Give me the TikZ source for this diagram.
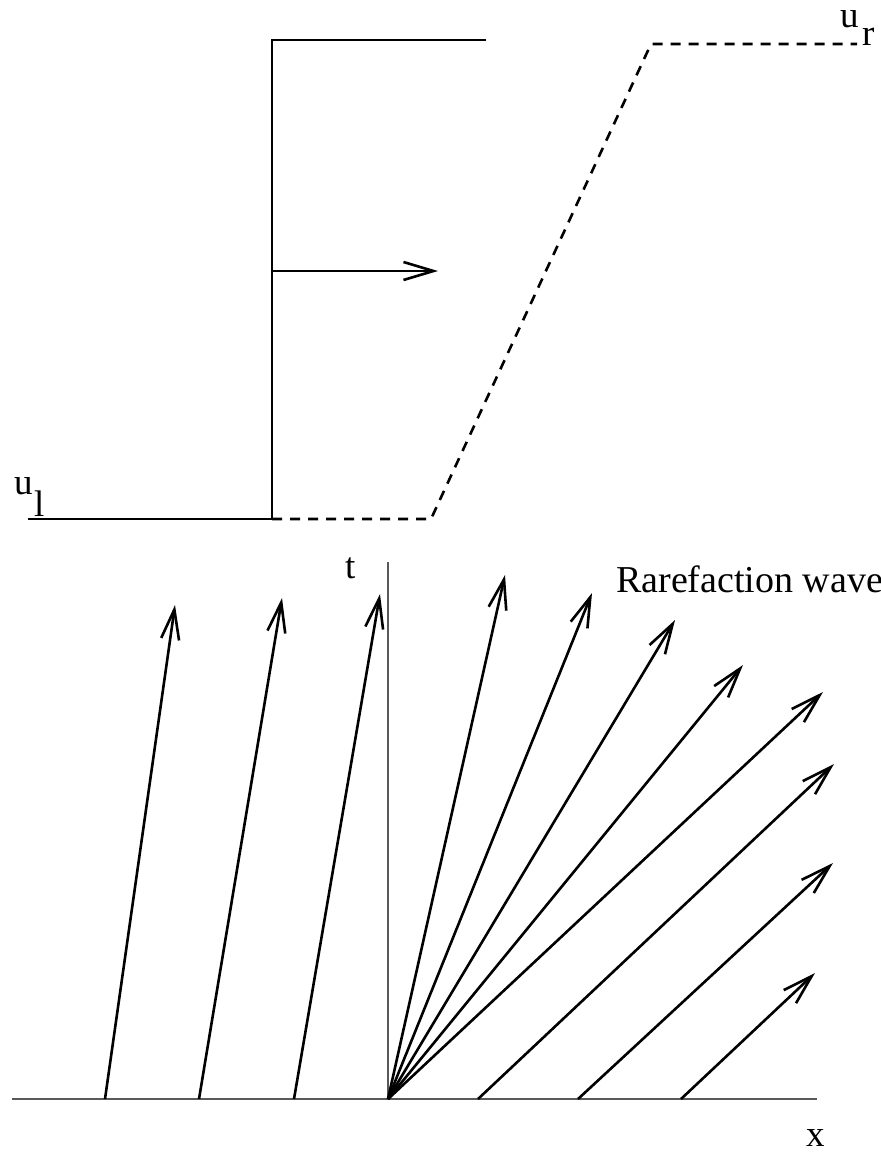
\documentclass[tikz,border=0pt]{standalone}
\usepackage{fontspec}
\setmainfont{Liberation Serif}
\usetikzlibrary{arrows.meta}
\tikzset{
  thick line/.style={line width=2.6pt, black},
  dash line/.style={line width=2.6pt, black, dash pattern=on 10pt off 8pt},
  axis line/.style={line width=1.2pt, black!65},
  vec/.style={thick line, -{Straight Barb[length=30pt,width=18pt,line width=2.6pt]}},
  lbl/.style={inner sep=0pt, anchor=base west, font=\fontsize{37}{37}\selectfont},
}
\begin{document}
\begin{tikzpicture}[x=1pt,y=-1pt]
\useasboundingbox (0,0) rectangle (881,1152);
% ---------- top panel ----------
\coordinate (ulstart) at (28,519);
\coordinate (foot) at (272,519);
\coordinate (head) at (272,40);
\coordinate (topend) at (486,40);
\coordinate (amid) at (272,271);
\coordinate (atip) at (438,271);
\coordinate (d1) at (431,519);
\coordinate (d2) at (651,44);
\coordinate (d3) at (857,44);
\draw[thick line] (ulstart) -- (foot) -- (head) -- (topend);
\draw[vec] (amid) -- (atip);
\draw[dash line] (foot) -- (d1) -- (d2) -- (d3);
\node[lbl] (ul) at (14,494) {u};
\node[lbl] (ulsub) at (34,516) {l};
\node[lbl] (ur) at (840,27) {u};
\node[lbl] (ursub) at (862,45) {r};
% ---------- bottom panel ----------
\coordinate (o) at (388,1099);
\coordinate (ttop) at (388,562);
\coordinate (xl) at (12,1099);
\coordinate (xr) at (817,1099);
\draw[axis line] (o) -- (ttop);
\draw[axis line] (xl) -- (xr);
\node[lbl] (tlabel) at (345,578) {t};
\node[lbl] (xlabel) at (806,1146) {x};
\node[lbl, font=\fontsize{38}{38}\selectfont] (rw) at (616,592) {Rarefaction wave};
% left characteristics
\coordinate (l1s) at (105,1099); \coordinate (l1e) at (175,605);
\coordinate (l2s) at (199,1099); \coordinate (l2e) at (282,598);
\coordinate (l3s) at (294,1099); \coordinate (l3e) at (380,594);
\draw[vec] (l1s) -- (l1e);
\draw[vec] (l2s) -- (l2e);
\draw[vec] (l3s) -- (l3e);
% fan
\coordinate (f1) at (505,575);
\coordinate (f2) at (592,593);
\coordinate (f3) at (675,620);
\coordinate (f4) at (743,665);
\coordinate (f5) at (823,692);
\foreach \f in {f1,f2,f3,f4,f5} \draw[vec] (o) -- (\f);
% right characteristics
\coordinate (r1s) at (478,1099); \coordinate (r1e) at (834,764);
\coordinate (r2s) at (578,1099); \coordinate (r2e) at (833,863);
\coordinate (r3s) at (681,1099); \coordinate (r3e) at (815,973);
\draw[vec] (r1s) -- (r1e);
\draw[vec] (r2s) -- (r2e);
\draw[vec] (r3s) -- (r3e);
\end{tikzpicture}
\end{document}
